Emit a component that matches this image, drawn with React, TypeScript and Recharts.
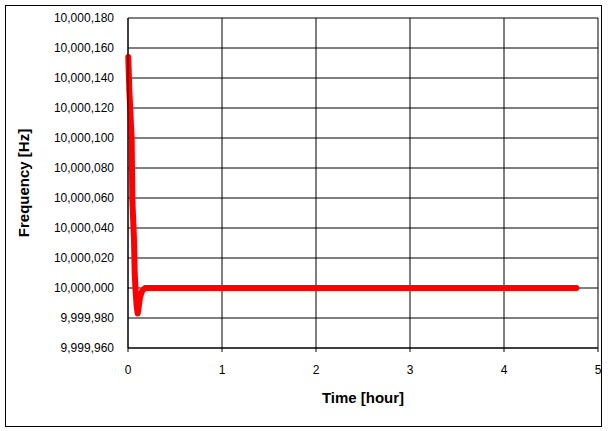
import { LineChart, Line, XAxis, YAxis, CartesianGrid } from "recharts";

// time in hours, frequency in Hz
const timeHours = [
  0.003, 0.014, 0.039, 0.046, 0.064, 0.071, 0.082, 0.092, 0.103, 0.115, 0.128,
  0.15, 0.181, 0.25, 0.5, 1, 2, 3, 4, 4.77,
];
const frequencyHz = [
  10000154, 10000132, 10000099, 10000059, 10000032, 10000010, 9999997,
  9999988, 9999983, 9999988, 9999994, 9999998, 10000000, 10000000, 10000000,
  10000000, 10000000, 10000000, 10000000, 10000000,
];

const majorTicks = [0, 1, 2, 3, 4, 5];
const minorTicks = [
  0, 0.25, 0.5, 0.75, 1, 1.25, 1.5, 1.75, 2, 2.25, 2.5, 2.75, 3, 3.25, 3.5,
  3.75, 4, 4.25, 4.5, 4.75, 5,
];
const freqTicks = [
  9999960, 9999980, 10000000, 10000020, 10000040, 10000060, 10000080,
  10000100, 10000120, 10000140, 10000160, 10000180,
];

const data = timeHours.map((t, i) => ({ time: t, freq: frequencyHz[i] }));

const font = "'Liberation Sans', Arial, sans-serif";

// small tick mark that crosses the axis line
const MinorTick = (props: any) => {
  const { x, y } = props;
  return <line x1={x} x2={x} y1={y - 3} y2={y + 4} stroke="#000" strokeWidth={1} />;
};

const App = () => {
  return (
    <div style={{ position: "absolute", left: 0, top: 0, width: 608, height: 431, background: "#fff" }}>
      <div
        style={{
          position: "absolute",
          left: 5,
          top: 5,
          width: 597,
          height: 422,
          boxSizing: "border-box",
          border: "1px solid #000",
        }}
      />
      <div style={{ position: "absolute", left: 0, top: 0 }}>
        <LineChart
          width={608}
          height={431}
          data={data}
          margin={{ top: 18, right: 10, bottom: 0, left: 0 }}
          style={{ fontFamily: font }}
        >
          <CartesianGrid stroke="#000" strokeWidth={1} xAxisId="major" />
          <XAxis
            xAxisId="minor"
            type="number"
            dataKey="time"
            domain={[0, 5]}
            ticks={minorTicks}
            height={0}
            axisLine={false}
            tickLine={false}
            tickSize={0}
            tickMargin={0}
            tick={<MinorTick />}
          />
          <XAxis
            xAxisId="major"
            type="number"
            dataKey="time"
            domain={[0, 5]}
            ticks={majorTicks}
            height={83}
            axisLine={{ stroke: "#000" }}
            tickLine={{ stroke: "#000" }}
            tickSize={4}
            tickMargin={13}
            tick={{ fill: "#000", fontSize: 12, fontFamily: font }}
            label={{
              value: "Time [hour]",
              position: "insideBottom",
              offset: 28,
              style: { fontSize: 15, fontWeight: "bold", fill: "#000", fontFamily: font },
            }}
          />
          <YAxis
            type="number"
            domain={[9999960, 10000180]}
            ticks={freqTicks}
            width={128}
            axisLine={{ stroke: "#000" }}
            tickLine={false}
            tickSize={6}
            tickMargin={8}
            tick={{ fill: "#000", fontSize: 12, fontFamily: font }}
            tickFormatter={(v: number) => v.toLocaleString("en-US")}
            allowDataOverflow
            label={{
              value: "Frequency [Hz]",
              angle: -90,
              position: "insideLeft",
              offset: 24,
              style: { fontSize: 15, fontWeight: "bold", fill: "#000", fontFamily: font, textAnchor: "middle" },
            }}
          />
          <Line
            xAxisId="major"
            type="linear"
            dataKey="freq"
            stroke="#ff0000"
            strokeWidth={6}
            strokeLinejoin="round"
            strokeLinecap="round"
            dot={false}
            activeDot={false}
            isAnimationActive={false}
          />
        </LineChart>
      </div>
    </div>
  );
};

export default App;
